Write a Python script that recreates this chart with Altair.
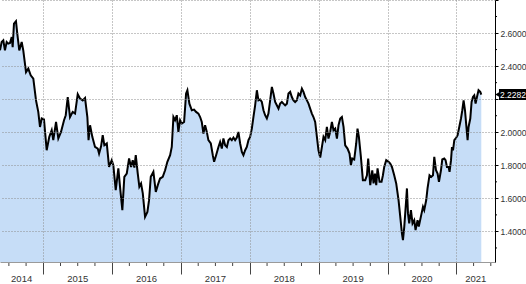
import altair as alt
import pandas as pd
import numpy as np

# ---- data (decimal year, value) ----
t = [2014.371, 2014.395, 2014.419, 2014.443, 2014.468, 2014.491, 2014.516, 2014.541, 2014.555, 2014.574,
     2014.603, 2014.622, 2014.651, 2014.686, 2014.709, 2014.749, 2014.782, 2014.817, 2014.855, 2014.894,
     2014.927, 2014.952, 2014.977, 2015.010, 2015.049, 2015.087, 2015.122, 2015.145, 2015.185, 2015.218,
     2015.257, 2015.301, 2015.326, 2015.355, 2015.388, 2015.427, 2015.461, 2015.500, 2015.533, 2015.573,
     2015.606, 2015.640, 2015.657, 2015.679, 2015.712, 2015.751, 2015.791, 2015.810, 2015.839, 2015.863,
     2015.887, 2015.922, 2015.955, 2015.994, 2016.017, 2016.052, 2016.090, 2016.119, 2016.148, 2016.177,
     2016.212, 2016.246, 2016.275, 2016.299, 2016.323, 2016.343, 2016.372, 2016.395, 2016.420, 2016.445,
     2016.478, 2016.512, 2016.536, 2016.561, 2016.599, 2016.634, 2016.663, 2016.696, 2016.735, 2016.769,
     2016.802, 2016.842, 2016.866, 2016.890, 2016.914, 2016.939, 2016.962, 2016.987, 2017.012, 2017.045,
     2017.074, 2017.093, 2017.122, 2017.157, 2017.190, 2017.219, 2017.253, 2017.278, 2017.302, 2017.326,
     2017.350, 2017.375, 2017.398, 2017.433, 2017.462, 2017.481, 2017.510, 2017.544, 2017.568, 2017.593,
     2017.616, 2017.641, 2017.666, 2017.689, 2017.714, 2017.738, 2017.762, 2017.786, 2017.811, 2017.834,
     2017.859, 2017.884, 2017.907, 2017.932, 2017.956, 2017.980, 2018.004, 2018.029, 2018.052, 2018.077,
     2018.102, 2018.125, 2018.150, 2018.174, 2018.198, 2018.222, 2018.247, 2018.270, 2018.295, 2018.320,
     2018.343, 2018.368, 2018.392, 2018.416, 2018.440, 2018.465, 2018.488, 2018.513, 2018.538, 2018.561,
     2018.586, 2018.610, 2018.634, 2018.658, 2018.683, 2018.706, 2018.731, 2018.756, 2018.779, 2018.804,
     2018.829, 2018.852, 2018.876, 2018.901, 2018.924, 2018.949, 2018.974, 2018.997, 2019.022, 2019.047,
     2019.070, 2019.095, 2019.119, 2019.142, 2019.167, 2019.192, 2019.215, 2019.240, 2019.265, 2019.288,
     2019.313, 2019.337, 2019.361, 2019.385, 2019.419, 2019.448, 2019.468, 2019.487, 2019.516, 2019.545,
     2019.564, 2019.584, 2019.613, 2019.642, 2019.676, 2019.701, 2019.719, 2019.749, 2019.778, 2019.797,
     2019.817, 2019.836, 2019.855, 2019.884, 2019.913, 2019.933, 2019.952, 2019.981, 2020.015, 2020.039,
     2020.064, 2020.097, 2020.126, 2020.160, 2020.185, 2020.209, 2020.224, 2020.243, 2020.267, 2020.282,
     2020.297, 2020.315, 2020.340, 2020.363, 2020.388, 2020.407, 2020.436, 2020.454, 2020.490, 2020.515,
     2020.533, 2020.562, 2020.581, 2020.610, 2020.635, 2020.660, 2020.679, 2020.704, 2020.727, 2020.747,
     2020.776, 2020.795, 2020.824, 2020.843, 2020.863, 2020.887, 2020.901, 2020.922, 2020.936, 2020.951,
     2020.970, 2020.999, 2021.018, 2021.042, 2021.067, 2021.086, 2021.105, 2021.125, 2021.144, 2021.163,
     2021.177, 2021.202, 2021.221, 2021.241, 2021.260, 2021.279, 2021.299, 2021.322, 2021.347, 2021.362]

v = [2.496, 2.546, 2.556, 2.495, 2.546, 2.536, 2.540, 2.576, 2.515, 2.657,
     2.672, 2.596, 2.495, 2.546, 2.495, 2.364, 2.385, 2.344, 2.324, 2.193,
     2.123, 2.032, 2.083, 2.077, 1.891, 1.972, 2.012, 1.952, 2.062, 1.962,
     2.002, 2.073, 2.103, 2.213, 2.092, 2.123, 2.113, 2.230, 2.204, 2.193,
     2.207, 2.092, 1.952, 2.042, 1.972, 1.911, 1.901, 1.871, 1.915, 1.982,
     1.921, 1.932, 1.790, 1.831, 1.801, 1.650, 1.781, 1.650, 1.529, 1.730,
     1.750, 1.841, 1.790, 1.831, 1.786, 1.861, 1.750, 1.670, 1.690, 1.630,
     1.488, 1.518, 1.589, 1.730, 1.760, 1.639, 1.680, 1.720, 1.730, 1.770,
     1.821, 1.861, 1.911, 2.092, 2.073, 2.103, 2.002, 2.073, 2.053, 2.062,
     2.234, 2.254, 2.173, 2.133, 2.137, 2.123, 2.113, 2.092, 2.062, 1.992,
     2.042, 2.002, 1.952, 1.932, 1.861, 1.821, 1.861, 1.911, 1.941, 1.901,
     1.962, 1.921, 1.911, 1.952, 1.962, 1.952, 1.968, 1.952, 1.968, 2.002,
     1.932, 1.881, 1.861, 1.891, 1.911, 1.952, 1.972, 2.022, 2.092, 2.163,
     2.254, 2.193, 2.198, 2.183, 2.133, 2.103, 2.083, 2.113, 2.193, 2.274,
     2.234, 2.183, 2.163, 2.143, 2.173, 2.183, 2.173, 2.163, 2.173, 2.234,
     2.244, 2.213, 2.193, 2.183, 2.193, 2.234, 2.223, 2.264, 2.244, 2.213,
     2.193, 2.173, 2.143, 2.113, 2.092, 2.062, 1.972, 1.891, 1.847, 1.911,
     1.972, 1.952, 2.032, 1.962, 2.002, 2.062, 2.012, 2.022, 1.962, 2.042,
     2.083, 2.092, 2.032, 1.921, 1.901, 1.871, 1.801, 1.841, 1.835, 1.932,
     2.022, 1.972, 1.851, 1.710, 1.710, 1.740, 1.841, 1.680, 1.770, 1.690,
     1.750, 1.680, 1.781, 1.700, 1.700, 1.740, 1.790, 1.831, 1.821, 1.811,
     1.790, 1.740, 1.690, 1.589, 1.488, 1.388, 1.347, 1.428, 1.569, 1.660,
     1.509, 1.448, 1.529, 1.448, 1.468, 1.408, 1.468, 1.430, 1.500, 1.549,
     1.529, 1.590, 1.660, 1.740, 1.730, 1.740, 1.851, 1.770, 1.750, 1.700,
     1.770, 1.835, 1.841, 1.831, 1.790, 1.790, 1.760, 1.831, 1.911, 1.891,
     1.952, 1.968, 1.982, 2.032, 2.083, 2.133, 2.193, 2.133, 2.042, 1.952,
     2.032, 2.083, 2.183, 2.213, 2.223, 2.173, 2.213, 2.254, 2.244, 2.228]

last_value = 2.2282
years = [2014, 2015, 2016, 2017, 2018, 2019, 2020, 2021]
y_ticks = [1.4, 1.6, 1.8, 2.0, 2.2, 2.4, 2.6, 2.8]
y_minor = [1.3, 1.5, 1.7, 1.9, 2.1, 2.3, 2.5, 2.7]

x_min, x_max = 2014.371, 2021.561
y_min, y_max = 1.215, 2.8

W, H = 495, 262
FONT = "Liberation Sans"

df = pd.DataFrame({"t": t, "v": v})

xs = alt.Scale(domain=[x_min, x_max], nice=False, zero=False)
ys = alt.Scale(domain=[y_min, y_max], nice=False, zero=False)

x_axis = alt.Axis(values=years[1:], grid=True, gridDash=[1, 2], gridColor="#8c8c8c",
                  gridWidth=1, labels=False, tickSize=12, tickColor="#444",
                  domainColor="#9a9a9a", title=None, zindex=1)
# the 2.2 label is covered by the last-value tag; 2.8 sits at the cut-off top edge
y_axis = alt.Axis(orient="right", values=y_ticks, grid=True, gridDash=[1, 2],
                  gridColor="#8c8c8c", gridWidth=1, tickSize=3, tickColor="#000",
                  domainColor="#000", labelFont=FONT, labelFontSize=8.5,
                  labelColor="#333", labelPadding=2, title=None, zindex=1,
                  labelExpr="(datum.value > 2.7 || abs(datum.value - 2.2) < 0.01) ? '' : format(datum.value, '.4f')")

X = alt.X("t:Q", scale=xs, axis=x_axis)
Y = alt.Y("v:Q", scale=ys, axis=y_axis)

area = alt.Chart(df).mark_area(color="#C6DDF7", clip=True).encode(x=X, y=Y)
line = alt.Chart(df).mark_line(color="#000", strokeWidth=2, clip=True).encode(x=X, y=Y)

# minor quarter ticks on the time axis
quarters = [q for yr in years for q in (yr + 0.25, yr + 0.5, yr + 0.75) if x_min < q < x_max]
qdf = pd.DataFrame({"t": quarters})
qticks = alt.Chart(qdf).mark_rule(color="#444", strokeWidth=1).encode(
    x=X, y=alt.value(H), y2=alt.value(H + 4))

# year labels centered in the visible part of each year
mids = [(max(yr, x_min) + min(yr + 1, x_max)) / 2 for yr in years]
ldf = pd.DataFrame({"t": mids, "label": [str(yr) for yr in years]})
year_labels = alt.Chart(ldf).mark_text(font=FONT, fontSize=9.5, color="#333",
                                       baseline="middle").encode(
    x=X, y=alt.value(H + 17), text="label:N")

# minor ticks on the value axis
mdf = pd.DataFrame({"v": y_minor})
yminor = alt.Chart(mdf).mark_rule(color="#000", strokeWidth=1).encode(
    y=Y, x=alt.value(W), x2=alt.value(W + 2))

# last value tag
tdf = pd.DataFrame({"v": [last_value], "label": [f"{last_value:.4f}"]})
tag_box = alt.Chart(tdf).mark_rule(color="#000", strokeWidth=11).encode(
    y=Y, x=alt.value(W + 4), x2=alt.value(W + 40))
tag_arrow = alt.Chart(tdf).mark_point(shape="triangle-left", filled=True, color="#000",
                                      size=40, opacity=1).encode(
    y=Y, x=alt.value(W + 3))
tag_text = alt.Chart(tdf).mark_text(color="#fff", font=FONT, fontSize=8.5, align="left",
                                    baseline="middle").encode(
    y=Y, x=alt.value(W + 5), text="label:N")

chart = alt.layer(area, line, qticks, year_labels, yminor, tag_box, tag_arrow, tag_text).properties(
    width=W, height=H,
    padding={"left": 0, "top": 0, "right": 31, "bottom": 22},
    autosize=alt.AutoSizeParams(type="none"),
    background="#ffffff",
).configure_view(stroke=None)

chart.save("out.html", embed_options={"renderer": "svg", "actions": False})
